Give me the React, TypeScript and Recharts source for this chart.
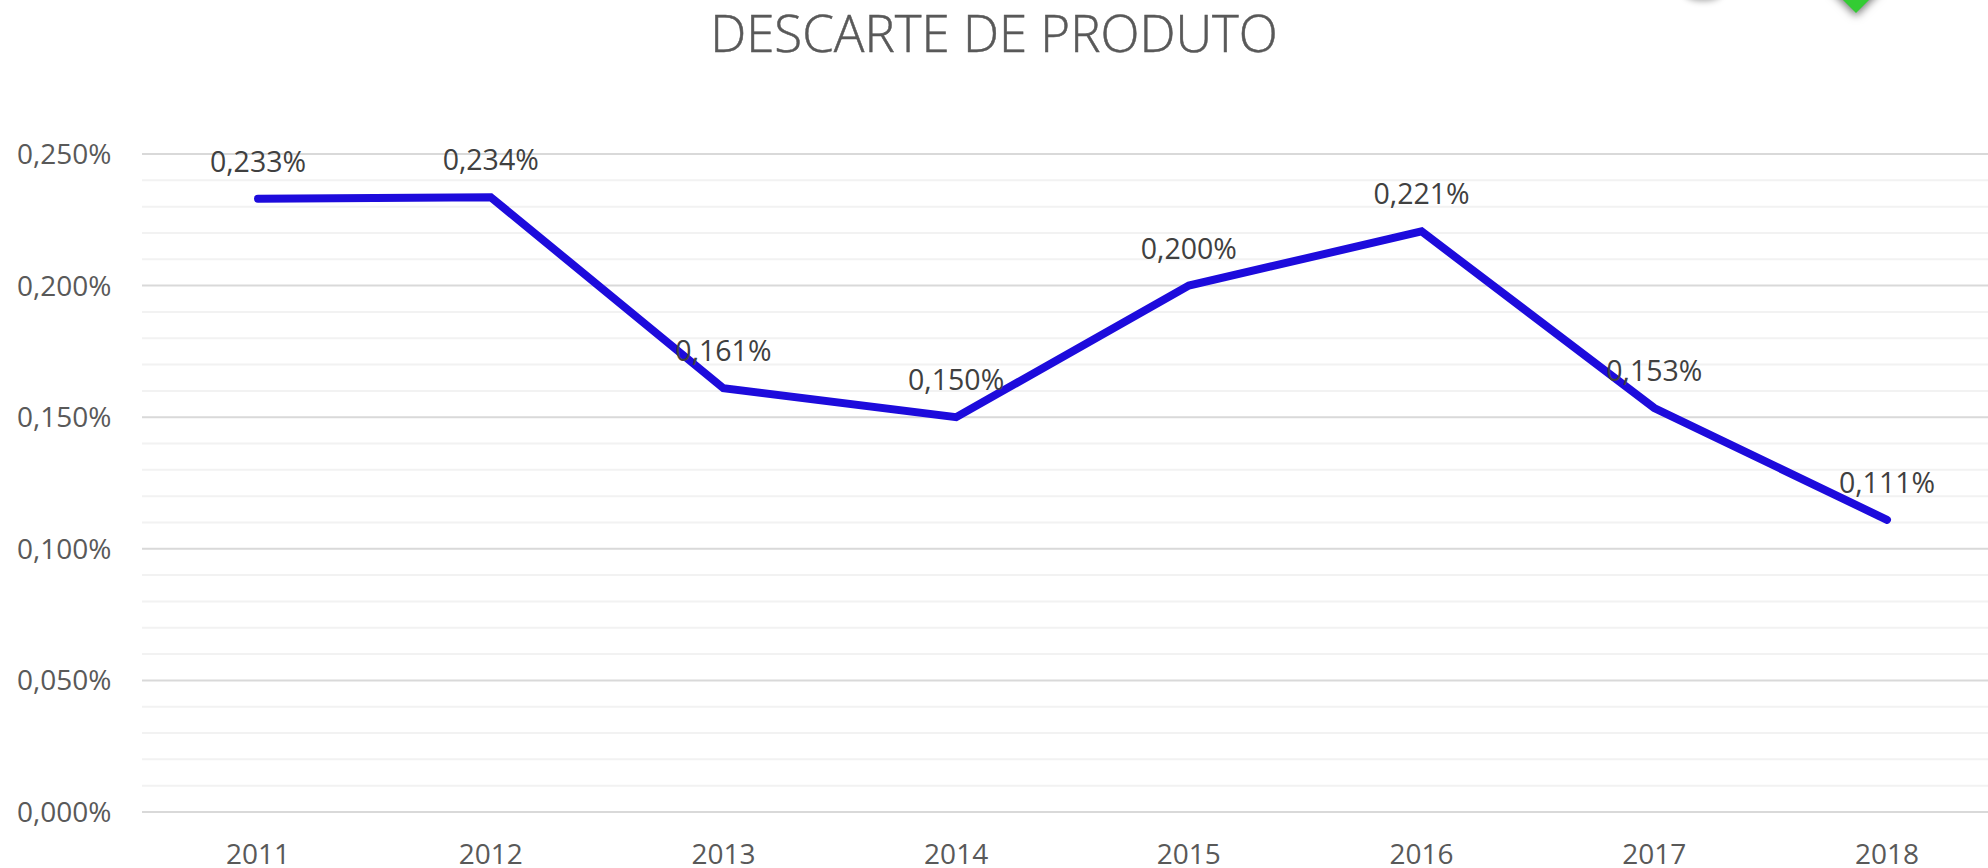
import React from "react";
import { ComposedChart, Line, XAxis, YAxis, ReferenceLine, LabelList } from "recharts";

const years = ["2011", "2012", "2013", "2014", "2015", "2016", "2017", "2018"];
const values = [0.233, 0.2336, 0.161, 0.15, 0.2, 0.2206, 0.1535, 0.111];
const majorTicks = [0, 0.05, 0.1, 0.15, 0.2, 0.25];
const minorTicks = [0.01, 0.02, 0.03, 0.04, 0.06, 0.07, 0.08, 0.09, 0.11, 0.12, 0.13, 0.14, 0.16, 0.17, 0.18, 0.19, 0.21, 0.22, 0.23, 0.24];
const title = "DESCARTE DE PRODUTO";
const FONT = "'Open Sans', sans-serif";

const rows = years.map((year, i) => ({ year, value: values[i] }));
const fmt = (v: number) => v.toFixed(3).replace(".", ",") + "%";

export default function App() {
  return (
    <div style={{ position: "absolute", left: 0, top: 0, width: 1988, height: 868, overflow: "hidden", background: "#fff" }}>
      <ComposedChart
        width={2003}
        height={868}
        data={rows}
        margin={{ top: 154, right: 0, bottom: 0, left: 0 }}
      >
        <XAxis
          dataKey="year"
          axisLine={false}
          tickLine={false}
          interval={0}
          height={56}
          padding={{ left: 116, right: 116 }}
          tickMargin={26}
          tick={{ fontFamily: FONT, fontSize: 28, fill: "#595959" }}
        />
        <YAxis
          domain={[0, 0.25]}
          ticks={majorTicks}
          width={142}
          axisLine={false}
          tickLine={false}
          tick={(p: any) => (
            <text x={17} y={p.y + 10} fontFamily={FONT} fontSize={28} fill="#595959">{fmt(p.payload.value)}</text>
          )}
        />
        {minorTicks.map((t) => (
          <ReferenceLine key={t} y={t} stroke="#f2f2f2" strokeWidth={2} />
        ))}
        {majorTicks.map((t) => (
          <ReferenceLine key={t} y={t} stroke="#d9d9d9" strokeWidth={2} />
        ))}
        <Line
          dataKey="value"
          stroke="#1d0bdc"
          strokeWidth={8}
          strokeLinecap="round"
          dot={false}
          isAnimationActive={false}
        >
          <LabelList
            dataKey="value"
            position="top"
            offset={27}
            formatter={(v: number) => fmt(v)}
            style={{ fontFamily: FONT, fontSize: 28.5, fill: "#404040" }}
          />
        </Line>
      </ComposedChart>
      <div style={{ position: "absolute", left: 0, top: -3, width: 1988, textAlign: "center", fontFamily: FONT, fontWeight: 300, fontSize: 51, color: "#595959", whiteSpace: "nowrap", WebkitTextStroke: "0.5px #595959" }}>
        {title}
      </div>
      <svg width={1988} height={40} style={{ position: "absolute", left: 0, top: 0, overflow: "hidden" }}>
        <ellipse cx={1703} cy={-9} rx={18} ry={7} fill="#fff" style={{ filter: "drop-shadow(0 3px 3px rgba(0,0,0,0.35))" }} />
        <polygon points="1856,13 1830,-13 1882,-13" fill="#33cc33" style={{ filter: "drop-shadow(0 3px 4px rgba(0,0,0,0.55))" }} />
      </svg>
    </div>
  );
}
